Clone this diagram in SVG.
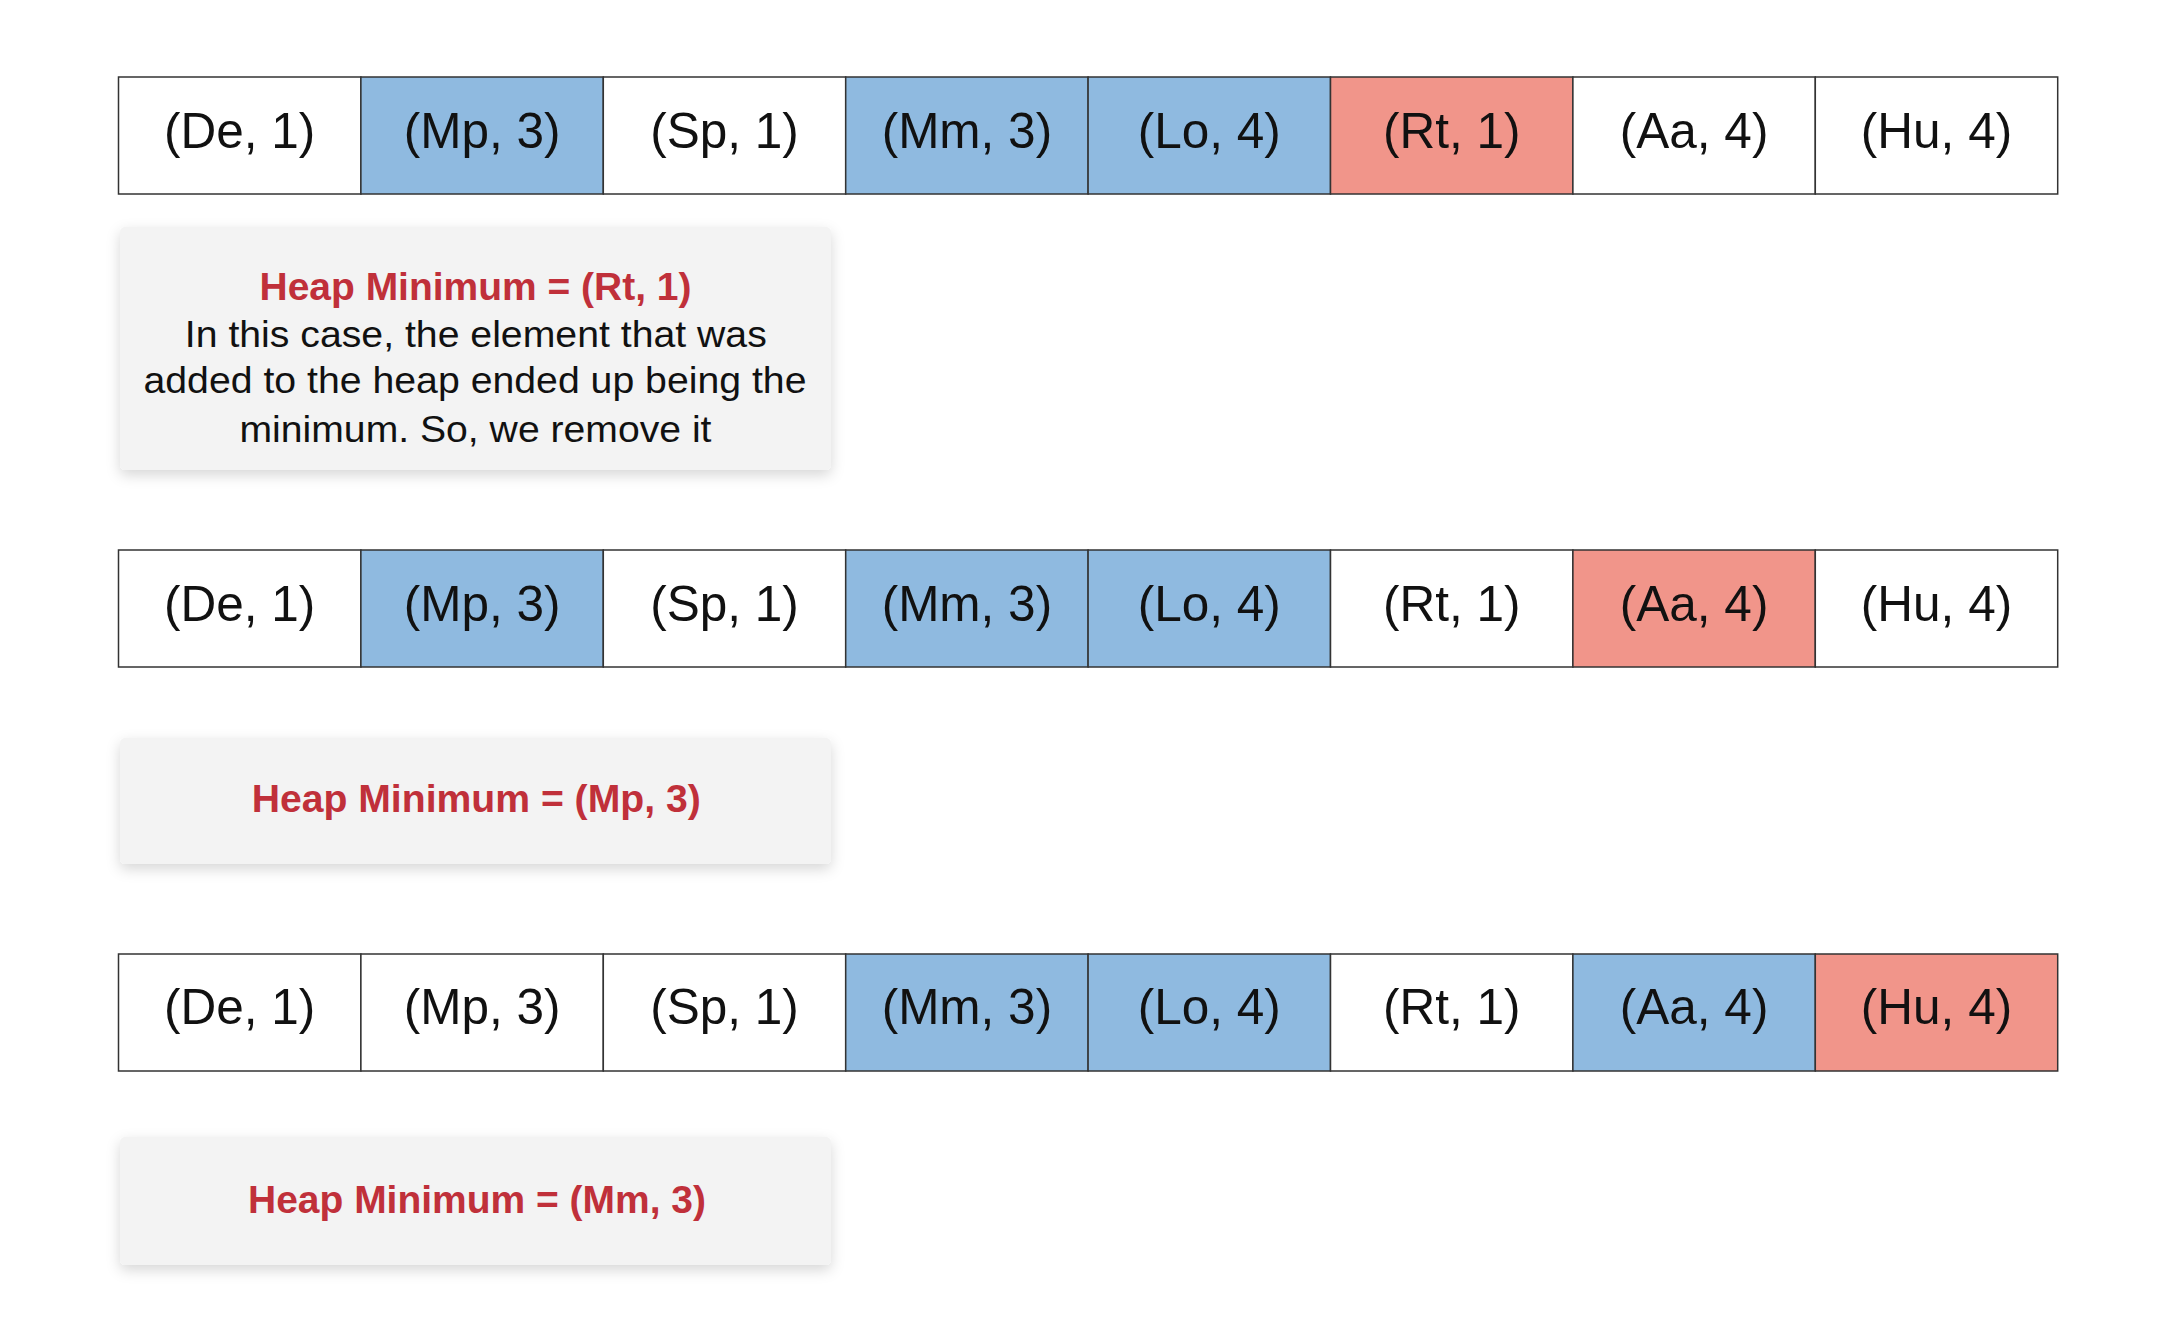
<svg xmlns="http://www.w3.org/2000/svg" width="2162" height="1318" viewBox="0 0 2162 1318">
<style>
.cell{stroke:#333333;stroke-width:1.5}
.w{fill:#ffffff}
.b{fill:#8fbae0}
.r{fill:#f1958a}
.ct{font-family:"Liberation Sans",Arial,sans-serif;font-size:49.5px;fill:#111111;text-anchor:middle}
.note{fill:#f3f3f3;filter:url(#sh)}
.title{font-family:"Liberation Sans",Arial,sans-serif;font-size:38px;font-weight:bold;fill:#c0303a;text-anchor:middle}
.body{font-family:"Liberation Sans",Arial,sans-serif;font-size:37px;fill:#111111;text-anchor:middle}
</style>
<defs>
<filter id="sh" x="-10%" y="-20%" width="120%" height="150%">
<feDropShadow dx="0" dy="5" stdDeviation="7" flood-color="#000000" flood-opacity="0.16"/>
</filter>
</defs>
<rect width="2162" height="1318" fill="#ffffff"/>

<g id="row1">
<g id="r1c1"><rect class="cell w" x="118.5" y="77" width="242.4" height="117"/><text class="ct" x="239.7" y="147.5">(De, 1)</text></g>
<g id="r1c2"><rect class="cell b" x="360.9" y="77" width="242.4" height="117"/><text class="ct" x="482.1" y="147.5">(Mp, 3)</text></g>
<g id="r1c3"><rect class="cell w" x="603.3" y="77" width="242.4" height="117"/><text class="ct" x="724.5" y="147.5">(Sp, 1)</text></g>
<g id="r1c4"><rect class="cell b" x="845.7" y="77" width="242.4" height="117"/><text class="ct" x="966.9" y="147.5">(Mm, 3)</text></g>
<g id="r1c5"><rect class="cell b" x="1088.1" y="77" width="242.4" height="117"/><text class="ct" x="1209.3" y="147.5">(Lo, 4)</text></g>
<g id="r1c6"><rect class="cell r" x="1330.5" y="77" width="242.4" height="117"/><text class="ct" x="1451.7" y="147.5">(Rt, 1)</text></g>
<g id="r1c7"><rect class="cell w" x="1572.9" y="77" width="242.4" height="117"/><text class="ct" x="1694.1" y="147.5">(Aa, 4)</text></g>
<g id="r1c8"><rect class="cell w" x="1815.3" y="77" width="242.4" height="117"/><text class="ct" x="1936.5" y="147.5">(Hu, 4)</text></g>
</g>

<g id="note1">
<rect class="note" x="120" y="227" width="711" height="243" rx="5"/>
<text class="title" x="475.5" y="300" textLength="432" lengthAdjust="spacingAndGlyphs">Heap Minimum = (Rt, 1)</text>
<text class="body" x="475.8" y="346.7" textLength="582" lengthAdjust="spacingAndGlyphs">In this case, the element that was</text>
<text class="body" x="475" y="393.3" textLength="663" lengthAdjust="spacingAndGlyphs">added to the heap ended up being the</text>
<text class="body" x="475.5" y="441.7" textLength="472" lengthAdjust="spacingAndGlyphs">minimum. So, we remove it</text>
</g>

<g id="row2">
<g id="r2c1"><rect class="cell w" x="118.5" y="550" width="242.4" height="117"/><text class="ct" x="239.7" y="620.5">(De, 1)</text></g>
<g id="r2c2"><rect class="cell b" x="360.9" y="550" width="242.4" height="117"/><text class="ct" x="482.1" y="620.5">(Mp, 3)</text></g>
<g id="r2c3"><rect class="cell w" x="603.3" y="550" width="242.4" height="117"/><text class="ct" x="724.5" y="620.5">(Sp, 1)</text></g>
<g id="r2c4"><rect class="cell b" x="845.7" y="550" width="242.4" height="117"/><text class="ct" x="966.9" y="620.5">(Mm, 3)</text></g>
<g id="r2c5"><rect class="cell b" x="1088.1" y="550" width="242.4" height="117"/><text class="ct" x="1209.3" y="620.5">(Lo, 4)</text></g>
<g id="r2c6"><rect class="cell w" x="1330.5" y="550" width="242.4" height="117"/><text class="ct" x="1451.7" y="620.5">(Rt, 1)</text></g>
<g id="r2c7"><rect class="cell r" x="1572.9" y="550" width="242.4" height="117"/><text class="ct" x="1694.1" y="620.5">(Aa, 4)</text></g>
<g id="r2c8"><rect class="cell w" x="1815.3" y="550" width="242.4" height="117"/><text class="ct" x="1936.5" y="620.5">(Hu, 4)</text></g>
</g>

<g id="note2">
<rect class="note" x="120" y="738" width="711" height="126" rx="5"/>
<text class="title" x="476.2" y="811.5" textLength="449" lengthAdjust="spacingAndGlyphs">Heap Minimum = (Mp, 3)</text>
</g>

<g id="row3">
<g id="r3c1"><rect class="cell w" x="118.5" y="954" width="242.4" height="117"/><text class="ct" x="239.7" y="1023.5">(De, 1)</text></g>
<g id="r3c2"><rect class="cell w" x="360.9" y="954" width="242.4" height="117"/><text class="ct" x="482.1" y="1023.5">(Mp, 3)</text></g>
<g id="r3c3"><rect class="cell w" x="603.3" y="954" width="242.4" height="117"/><text class="ct" x="724.5" y="1023.5">(Sp, 1)</text></g>
<g id="r3c4"><rect class="cell b" x="845.7" y="954" width="242.4" height="117"/><text class="ct" x="966.9" y="1023.5">(Mm, 3)</text></g>
<g id="r3c5"><rect class="cell b" x="1088.1" y="954" width="242.4" height="117"/><text class="ct" x="1209.3" y="1023.5">(Lo, 4)</text></g>
<g id="r3c6"><rect class="cell w" x="1330.5" y="954" width="242.4" height="117"/><text class="ct" x="1451.7" y="1023.5">(Rt, 1)</text></g>
<g id="r3c7"><rect class="cell b" x="1572.9" y="954" width="242.4" height="117"/><text class="ct" x="1694.1" y="1023.5">(Aa, 4)</text></g>
<g id="r3c8"><rect class="cell r" x="1815.3" y="954" width="242.4" height="117"/><text class="ct" x="1936.5" y="1023.5">(Hu, 4)</text></g>
</g>

<g id="note3">
<rect class="note" x="120" y="1137" width="711" height="128" rx="5"/>
<text class="title" x="477" y="1212.5" textLength="458" lengthAdjust="spacingAndGlyphs">Heap Minimum = (Mm, 3)</text>
</g>

<g id="connectors"/>
</svg>
